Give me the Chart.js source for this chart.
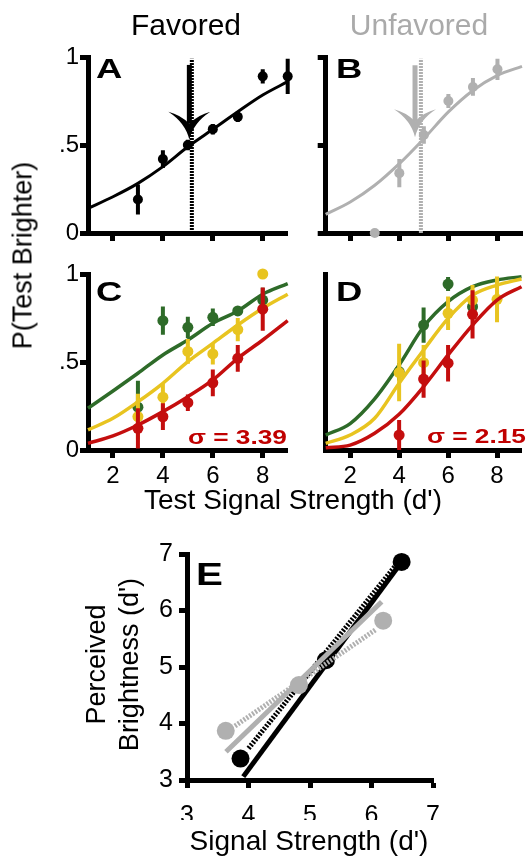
<!DOCTYPE html>
<html><head><meta charset="utf-8">
<script src="https://cdn.jsdelivr.net/npm/chart.js@4.4.1/dist/chart.umd.min.js"></script>
<style>
html,body{margin:0;padding:0;background:#fff;}
#wrap{position:relative;width:527px;height:860px;overflow:hidden;font-family:'Liberation Sans',Arial,Helvetica,sans-serif;}
canvas{position:absolute;left:0;top:0;}
.t{position:absolute;white-space:nowrap;line-height:1;color:#000;}
.c{text-align:center;}
.lt{font-weight:bold;transform-origin:left center;transform:scaleX(1.3);}
.sig{font-weight:bold;font-size:21px;color:#c00000;transform-origin:left center;transform:scaleX(1.25);}
.rot{text-align:center;transform:rotate(-90deg);}
</style></head><body>
<div id="wrap">
<canvas id="cA" width="527" height="860"></canvas>
<canvas id="cB" width="527" height="860"></canvas>
<canvas id="cC" width="527" height="860"></canvas>
<canvas id="cD" width="527" height="860"></canvas>
<canvas id="cE" width="527" height="860"></canvas>

<div class="t c" style="left:86px;top:9.6px;width:200px;font-size:30px;">Favored</div>
<div class="t c" style="left:319px;top:9.6px;width:200px;font-size:30px;color:#aaaaaa;">Unfavored</div>
<div class="t rot" style="left:-127px;top:241.5px;width:300px;height:27px;font-size:27px;">P(Test Brighter)</div>
<div class="t c" style="left:143px;top:486.3px;width:300px;font-size:28px;">Test Signal Strength (d')</div>

<div class="t lt" style="left:96px;top:55.3px;font-size:28px;">A</div>
<div class="t lt" style="left:336px;top:55.3px;font-size:28px;">B</div>
<div class="t lt" style="left:96px;top:278px;font-size:28px;">C</div>
<div class="t lt" style="left:336px;top:278px;font-size:28px;">D</div>
<div class="t lt" style="left:196px;top:559px;font-size:31px;">E</div>

<div class="t sig" style="left:188px;top:425.5px;">σ = 3.39</div>
<div class="t sig" style="left:427px;top:424.5px;">σ = 2.15</div>

<div class="t rot" style="left:-54px;top:650.5px;width:300px;height:27px;font-size:27px;">Perceived</div>
<div class="t rot" style="left:-21px;top:650.5px;width:300px;height:27px;font-size:27px;">Brightness (d')</div>
<div class="t c" style="left:159px;top:827.3px;width:300px;font-size:28px;">Signal Strength (d')</div>
</div>
<script>
// ---------- data ----------
const xFit = [1, 2, 3, 4, 5, 6, 7, 8, 9];
const xTicksAD = [2, 4, 6, 8];
const yTicksAD = [0, 0.5, 1];
const yTickLabelsAD = ['0', '.5', '1'];

// Panel A (Favored)
const favX = [3, 4, 5, 6, 7, 8, 9];
const favP = [0.19, 0.42, 0.50, 0.59, 0.66, 0.89, 0.89];
const favErr = [0.085, 0.05, 0.03, 0.03, 0.03, 0.04, 0.10];
const favFit = [0.14, 0.206, 0.282, 0.377, 0.49, 0.589, 0.689, 0.784, 0.86];
const favPSE = [5.16];
const favArrow = [5.06, 0.955, 0.53]; // x, top, tip

// Panel B (Unfavored)
const unfX = [3, 4, 5, 6, 7, 8];
const unfP = [0.0, 0.34, 0.557, 0.75, 0.83, 0.93];
const unfErr = [0, 0.08, 0.05, 0.04, 0.05, 0.06];
const unfFit = [0.106, 0.176, 0.271, 0.394, 0.536, 0.688, 0.81, 0.896, 0.947];
const unfPSE = [4.88];
const unfArrow = [4.64, 0.953, 0.544];

// Panel C
const cX = [3, 4, 5, 6, 7, 8];
const cGreenP = [0.243, 0.735, 0.697, 0.754, 0.79, 0.852];
const cGreenErr = [0.15, 0.08, 0.06, 0.05, 0.025, 0.07];
const cYellowP = [0.19, 0.30, 0.56, 0.546, 0.684, 1.0];
const cYellowErr = [0.13, 0.076, 0.07, 0.06, 0.066, 0];
const cRedP = [0.123, 0.189, 0.269, 0.382, 0.521, 0.80];
const cRedErr = [0.114, 0.076, 0.047, 0.076, 0.076, 0.123];
const cGreenFit = [0.237, 0.335, 0.436, 0.54, 0.625, 0.72, 0.79, 0.885, 0.945];
const cYellowFit = [0.114, 0.18, 0.274, 0.379, 0.502, 0.606, 0.71, 0.805, 0.885];
const cRedFit = [0.038, 0.08, 0.142, 0.218, 0.303, 0.398, 0.521, 0.625, 0.735];

// Panel D
const dGreenX = [4, 5, 6, 7];
const dGreenP = [0.445, 0.71, 0.943, 0.814];
const dGreenErr = [0.05, 0.10, 0.04, 0.03];
const dYellowX = [4, 5, 6, 7, 8];
const dYellowP = [0.44, 0.496, 0.777, 0.852, 0.856];
const dYellowErr = [0.163, 0.10, 0.095, 0.085, 0.13];
const dRedX = [4, 5, 6, 7];
const dRedP = [0.085, 0.403, 0.493, 0.771];
const dRedErr = [0.085, 0.106, 0.104, 0.137];
const dGreenFit = [0.085, 0.15, 0.29, 0.483, 0.70, 0.843, 0.928, 0.966, 0.985];
const dYellowFit = [0.038, 0.085, 0.18, 0.379, 0.568, 0.748, 0.88, 0.937, 0.972];
const dRedFit = [0.013, 0.028, 0.095, 0.203, 0.36, 0.54, 0.71, 0.852, 0.928];

// Panel E
const eTicks = [3, 4, 5, 6, 7];
const eBlackX = [3.87, 5.26, 6.49];
const eBlackY = [3.38, 5.12, 6.86];
const eGrayX = [3.63, 4.82, 6.19];
const eGrayY = [3.87, 4.68, 5.82];
const eBlackFitX = [3.915, 6.45];
const eBlackFitY = [3.06, 6.80];
const eBlackDotX = [4.0, 6.38];
const eBlackDotY = [3.56, 6.78];
const eGrayFitX = [3.634, 6.166];
const eGrayFitY = [3.50, 6.156];
const eGrayDotX = [3.78, 6.08];
const eGrayDotY = [3.956, 5.67];

// ---------- styling / helpers ----------
const FONT = "'Liberation Sans', Arial, Helvetica, sans-serif";
const W = 527, H = 860;
const BLACK = '#000000', GRAY = '#b0b0b0';
const GREEN = '#2e6b29', YELLOW = '#e8c420', RED = '#c40e0e';

function pts(xs, ys) { return xs.map((x, i) => ({x: x, y: ys[i]})); }
function errData(xs, ys, es) {
  const out = [];
  xs.forEach((x, i) => { out.push({x: x, y: ys[i] - es[i]}); out.push({x: x, y: ys[i] + es[i]}); out.push({x: x, y: null}); });
  return out;
}
function fitDS(xs, ys, color, w) {
  return {data: pts(xs, ys), borderColor: color, borderWidth: w, pointRadius: 0, cubicInterpolationMode: 'monotone', fill: false, clip: false};
}
function lineDS(xs, ys, color, w, dash) {
  return {data: pts(xs, ys), borderColor: color, borderWidth: w, pointRadius: 0, borderDash: dash || [], borderCapStyle: 'butt', fill: false, clip: false};
}
function errDS(xs, ys, es, color, w) {
  return {data: errData(xs, ys, es), borderColor: color, borderWidth: w || 4, pointRadius: 0, borderCapStyle: 'butt', spanGaps: false, fill: false, clip: false};
}
function ptDS(xs, ys, color, r) {
  return {data: pts(xs, ys), showLine: false, pointRadius: r, pointBackgroundColor: color, pointBorderWidth: 0, backgroundColor: color, borderColor: color, clip: false};
}
function vline(x, color) {
  return {data: [{x: x, y: 0}, {x: x, y: 0.99}], borderColor: color, borderWidth: 4, borderDash: [2, 1], pointRadius: 0, borderCapStyle: 'butt', fill: false, clip: false};
}

const arrowPlugin = {
  id: 'pseArrow',
  afterDatasetsDraw(chart, args, opts) {
    if (!opts || !opts.arrow) return;
    const a = opts.arrow;
    const ctx = chart.ctx, xs = chart.scales.x, ys = chart.scales.y;
    const px = xs.getPixelForValue(a[0]);
    const top = ys.getPixelForValue(a[1]);
    const tip = ys.getPixelForValue(a[2]);
    const hw = 21, hh = 28, notch = 16;
    ctx.save();
    ctx.fillStyle = opts.color; ctx.strokeStyle = opts.color;
    ctx.lineWidth = 5; ctx.lineCap = 'butt';
    ctx.beginPath(); ctx.moveTo(px, top); ctx.lineTo(px, tip - notch); ctx.stroke();
    ctx.beginPath();
    ctx.moveTo(px, tip);
    ctx.quadraticCurveTo(px - 4, tip - 17, px - hw, tip - hh);
    ctx.quadraticCurveTo(px - 9, tip - hh + 3, px, tip - notch);
    ctx.quadraticCurveTo(px + 9, tip - hh + 3, px + hw, tip - hh);
    ctx.quadraticCurveTo(px + 4, tip - 17, px, tip);
    ctx.closePath();
    ctx.fill();
    ctx.restore();
  }
};

function makePanel(id, area, datasets, cfg) {
  const yW = cfg.yW || 40, xH = cfg.xH || 40;
  const tickFont = {family: FONT, size: cfg.tickSize || 24};
  return new Chart(document.getElementById(id), {
    type: 'line',
    data: {datasets: datasets},
    options: {
      responsive: false, animation: false, events: [], devicePixelRatio: 1,
      layout: {padding: {left: area.L - yW, right: W - area.R, top: area.T, bottom: H - area.B - xH}},
      plugins: {legend: {display: false}, tooltip: {enabled: false}, pseArrow: {arrow: cfg.arrow || null, color: cfg.arrowColor || '#000'}},
      scales: {
        x: {
          type: 'linear', min: cfg.xMin, max: cfg.xMax,
          afterBuildTicks: s => { s.ticks = cfg.xTicks.map(v => ({value: v})); },
          afterFit: s => { s.height = xH; },
          ticks: {display: !!cfg.xLabels, autoSkip: false, maxRotation: 0, color: '#000', font: tickFont, padding: cfg.xPad, callback: v => String(v)},
          grid: {display: true, drawOnChartArea: false, drawTicks: true, tickLength: 8, tickWidth: 5, tickColor: '#000'},
          border: {display: true, color: '#000', width: 5}
        },
        y: {
          type: 'linear', min: cfg.yMin, max: cfg.yMax,
          afterBuildTicks: s => { s.ticks = cfg.yTicks.map(v => ({value: v})); },
          afterFit: s => { s.width = yW; },
          ticks: {display: !!cfg.yLabels, autoSkip: false, color: '#000', font: tickFont, padding: cfg.yPad,
                  callback: v => cfg.yLabelList ? cfg.yLabelList[cfg.yTicks.indexOf(v)] : String(v)},
          grid: {display: true, drawOnChartArea: false, drawTicks: cfg.yTickMarks !== false, tickLength: 8, tickWidth: 5, tickColor: '#000'},
          border: {display: true, color: '#000', width: 5}
        }
      }
    },
    plugins: [arrowPlugin]
  });
}

const adBase = {xMin: 1, xMax: 9, yMin: 0, yMax: 1, xTicks: xTicksAD, yTicks: yTicksAD, yLabelList: yTickLabelsAD, xPad: 4, yPad: 1};

// Panel A
makePanel('cA', {L: 88, R: 287.7, T: 57, B: 233}, [
  errDS(favX, favP, favErr, BLACK, 4),
  ptDS(favX, favP, BLACK, 5),
  fitDS(xFit, favFit, BLACK, 3),
  vline(favPSE[0], BLACK)
], Object.assign({}, adBase, {yLabels: true, xLabels: false, arrow: favArrow, arrowColor: BLACK}));

// Panel B
makePanel('cB', {L: 325.7, R: 525.7, T: 57, B: 233}, [
  errDS(unfX, unfP, unfErr, GRAY, 4),
  ptDS(unfX, unfP, GRAY, 5),
  fitDS(xFit, unfFit, GRAY, 3),
  vline(unfPSE[0], GRAY)
], Object.assign({}, adBase, {yLabels: false, xLabels: false, arrow: unfArrow, arrowColor: GRAY}));

// Panel C
makePanel('cC', {L: 88, R: 287.7, T: 274, B: 450}, [
  ptDS(cX, cRedP, RED, 5.5),
  errDS(cX, cRedP, cRedErr, RED, 4),
  fitDS(xFit, cRedFit, RED, 3.5),
  ptDS(cX, cYellowP, YELLOW, 5.5),
  errDS(cX, cYellowP, cYellowErr, YELLOW, 4),
  fitDS(xFit, cYellowFit, YELLOW, 3.5),
  ptDS(cX, cGreenP, GREEN, 5.5),
  errDS(cX, cGreenP, cGreenErr, GREEN, 4),
  fitDS(xFit, cGreenFit, GREEN, 3.5)
], Object.assign({}, adBase, {yLabels: true, xLabels: true}));

// Panel D
makePanel('cD', {L: 325.7, R: 525.7, T: 274, B: 450}, [
  ptDS(dRedX, dRedP, RED, 5.5),
  errDS(dRedX, dRedP, dRedErr, RED, 4),
  fitDS(xFit, dRedFit, RED, 3.5),
  ptDS(dYellowX, dYellowP, YELLOW, 5.5),
  errDS(dYellowX, dYellowP, dYellowErr, YELLOW, 4),
  fitDS(xFit, dYellowFit, YELLOW, 3.5),
  ptDS(dGreenX, dGreenP, GREEN, 5.5),
  errDS(dGreenX, dGreenP, dGreenErr, GREEN, 4),
  fitDS(xFit, dGreenFit, GREEN, 3.5)
], Object.assign({}, adBase, {yLabels: false, xLabels: true, yTickMarks: false}));

// Panel E
makePanel('cE', {L: 187, R: 433, T: 554, B: 780}, [
  ptDS(eGrayX, eGrayY, GRAY, 9),
  lineDS(eGrayFitX, eGrayFitY, GRAY, 5),
  lineDS(eGrayDotX, eGrayDotY, GRAY, 5, [2, 1.5]),
  ptDS(eBlackX, eBlackY, BLACK, 9),
  lineDS(eBlackFitX, eBlackFitY, BLACK, 5),
  lineDS(eBlackDotX, eBlackDotY, BLACK, 5, [2, 1.5])
], {xMin: 3, xMax: 7, yMin: 3, yMax: 7, xTicks: eTicks, yTicks: eTicks, yLabels: true, xLabels: true,
    tickSize: 25, xPad: 13, yPad: 6, yW: 60, xH: 40});
</script>
</body></html>
